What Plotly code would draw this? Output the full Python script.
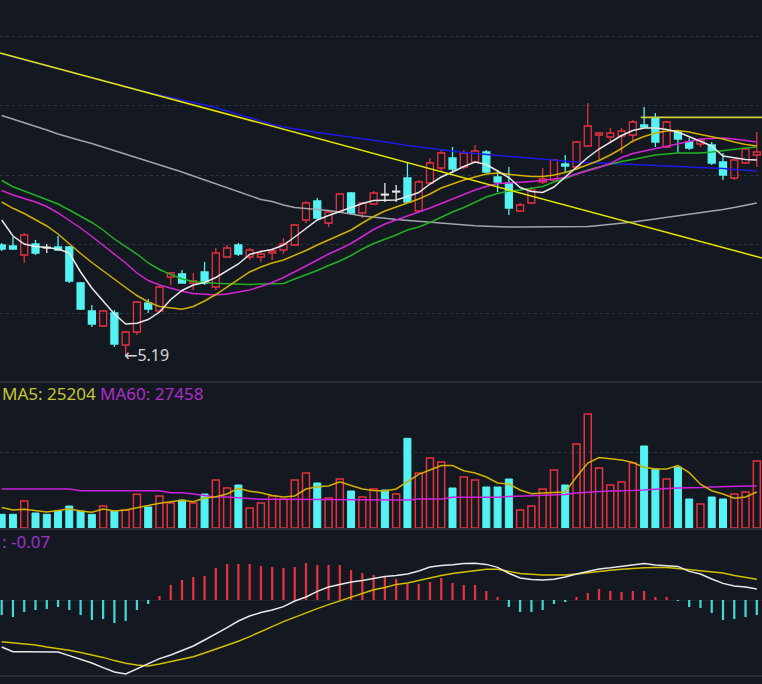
"""Daily K-line chart with volume and MACD panels, dark terminal style."""

import plotly.graph_objects as go

# --- price data (one entry per trading day) ---
opens = [6.29, 6.28, 6.19, 6.30, 6.26, 6.27, 6.27, 5.91, 5.63, 5.48,
         5.61, 5.29, 5.42, 5.71, 5.63, 5.97, 6.00, 5.91, 6.02, 5.87,
         6.17, 6.29, 6.17, 6.17, 6.21, 6.24, 6.29, 6.54, 6.73, 6.51,
         6.62, 6.81, 6.61, 6.70, 6.79, 6.82, 6.96, 6.63, 6.91, 7.06,
         7.16, 7.07, 7.12, 7.22, 6.97, 6.91, 6.63, 6.71, 6.92, 6.94,
         7.10, 7.07, 7.28, 7.39, 7.37, 7.38, 7.39, 7.49, 7.56, 7.27,
         7.42, 7.32, 7.30, 7.29, 7.12, 6.96, 7.11, 7.19]
highs = [6.31, 6.37, 6.41, 6.34, 6.30, 6.38, 6.28, 5.92, 5.69, 5.64,
         5.64, 5.43, 5.73, 5.75, 5.88, 6.02, 6.04, 6.01, 6.12, 6.26,
         6.29, 6.31, 6.26, 6.24, 6.26, 6.36, 6.50, 6.73, 6.76, 6.63,
         6.81, 6.82, 6.72, 6.83, 6.91, 6.89, 7.11, 6.94, 7.16, 7.24,
         7.27, 7.24, 7.29, 7.24, 7.04, 7.07, 6.71, 6.87, 7.06, 7.15,
         7.19, 7.33, 7.71, 7.42, 7.46, 7.46, 7.54, 7.67, 7.61, 7.53,
         7.44, 7.36, 7.36, 7.32, 7.21, 7.15, 7.26, 7.42]
lows = [6.23, 6.24, 6.11, 6.19, 6.21, 6.23, 5.91, 5.64, 5.47, 5.47,
        5.27, 5.19, 5.39, 5.61, 5.62, 5.89, 5.91, 5.84, 5.89, 5.84,
        6.16, 6.18, 6.14, 6.12, 6.14, 6.20, 6.28, 6.51, 6.54, 6.47,
        6.61, 6.59, 6.56, 6.69, 6.72, 6.72, 6.71, 6.61, 6.90, 7.02,
        7.01, 7.05, 7.11, 7.01, 6.82, 6.59, 6.62, 6.70, 6.90, 6.93,
        7.01, 7.06, 7.27, 7.14, 7.31, 7.21, 7.31, 7.46, 7.27, 7.26,
        7.21, 7.24, 7.27, 7.09, 6.94, 6.94, 7.10, 7.07]
closes = [6.25, 6.25, 6.39, 6.21, 6.26, 6.24, 5.93, 5.65, 5.50, 5.63,
          5.30, 5.42, 5.72, 5.65, 5.87, 6.01, 5.91, 5.93, 5.91, 6.21,
          6.26, 6.20, 6.24, 6.20, 6.23, 6.30, 6.49, 6.71, 6.56, 6.62,
          6.80, 6.61, 6.71, 6.81, 6.79, 6.82, 6.72, 6.92, 7.11, 7.21,
          7.05, 7.21, 7.23, 7.02, 6.92, 6.66, 6.69, 6.84, 6.95, 7.14,
          7.08, 7.32, 7.48, 7.41, 7.41, 7.43, 7.52, 7.47, 7.32, 7.52,
          7.35, 7.26, 7.34, 7.11, 6.99, 7.14, 7.25, 7.22]

ma5 = [6.54, 6.38, 6.30, 6.275, 6.265, 6.25, 6.21, 6.02, 5.86, 5.73,
       5.60, 5.50, 5.507, 5.545, 5.62, 5.745, 5.835, 5.89, 5.915, 5.965,
       6.035, 6.10, 6.195, 6.225, 6.245, 6.29, 6.37, 6.453, 6.54, 6.585,
       6.623, 6.66, 6.705, 6.734, 6.737, 6.74, 6.775, 6.815, 6.90, 6.97,
       7.02, 7.075, 7.12, 7.095, 7.03, 6.965, 6.865, 6.825, 6.815, 6.87,
       6.97, 7.065, 7.165, 7.25, 7.32, 7.385, 7.435, 7.46, 7.46, 7.445,
       7.42, 7.375, 7.33, 7.28, 7.18, 7.16, 7.145, 7.14]
ma10 = [6.72, 6.657, 6.605, 6.545, 6.48, 6.40, 6.30, 6.205, 6.115, 6.03,
        5.95, 5.865, 5.785, 5.72, 5.675, 5.66, 5.647, 5.675, 5.73, 5.795,
        5.87, 5.94, 6.02, 6.07, 6.11, 6.14, 6.185, 6.235, 6.29, 6.34,
        6.385, 6.44, 6.51, 6.575, 6.63, 6.67, 6.71, 6.75, 6.80, 6.86,
        6.90, 6.94, 6.97, 7.00, 7.01, 6.995, 6.985, 6.975, 6.975, 6.99,
        7.015, 7.05, 7.09, 7.135, 7.19, 7.255, 7.33, 7.375, 7.41, 7.43,
        7.435, 7.42, 7.395, 7.375, 7.35, 7.32, 7.295, 7.28]
ma20 = [6.835, 6.79, 6.755, 6.72, 6.675, 6.61, 6.535, 6.46, 6.375, 6.285,
        6.20, 6.11, 6.01, 5.935, 5.89, 5.857, 5.827, 5.805, 5.795, 5.79,
        5.80, 5.817, 5.84, 5.875, 5.915, 5.965, 6.02, 6.08, 6.14, 6.20,
        6.25, 6.305, 6.375, 6.445, 6.50, 6.54, 6.58, 6.615, 6.66, 6.705,
        6.75, 6.80, 6.84, 6.875, 6.905, 6.91, 6.915, 6.925, 6.935, 6.95,
        6.965, 7.00, 7.03, 7.065, 7.105, 7.165, 7.205, 7.23, 7.25, 7.275,
        7.305, 7.325, 7.35, 7.355, 7.36, 7.35, 7.335, 7.32]
ma30 = [6.935, 6.873, 6.83, 6.785, 6.745, 6.70, 6.64, 6.58, 6.515, 6.44,
        6.35, 6.273, 6.20, 6.11, 6.045, 5.995, 5.95, 5.925, 5.913, 5.907,
        5.902, 5.897, 5.895, 5.90, 5.90, 5.905, 5.95, 5.99, 6.035, 6.085,
        6.13, 6.185, 6.25, 6.305, 6.345, 6.39, 6.44, 6.47, 6.515, 6.57,
        6.62, 6.665, 6.72, 6.77, 6.805, 6.83, 6.84, 6.855, 6.875, 6.92,
        6.955, 7.00, 7.04, 7.07, 7.10, 7.125, 7.145, 7.17, 7.19, 7.20,
        7.21, 7.21, 7.21, 7.22, 7.235, 7.25, 7.26, 7.27]
ma60 = [7.585, 7.55, 7.515, 7.48, 7.44, 7.40, 7.365, 7.335, 7.305, 7.27,
        7.235, 7.20, 7.165, 7.13, 7.095, 7.06, 7.02, 6.98, 6.94, 6.90,
        6.86, 6.825, 6.78, 6.745, 6.725, 6.69, 6.665, 6.652, 6.645, 6.635,
        6.62, 6.60, 6.58, 6.565, 6.557, 6.545, 6.535, 6.53, 6.52, 6.51,
        6.50, 6.49, 6.482, 6.477, 6.472, 6.47, 6.47, 6.47, 6.47, 6.47,
        6.47, 6.47, 6.475, 6.485, 6.495, 6.505, 6.52, 6.535, 6.55, 6.565,
        6.58, 6.595, 6.61, 6.63, 6.645, 6.665, 6.685, 6.71]
ma120 = [8.20, 8.17, 8.14, 8.11, 8.08, 8.05, 8.02, 7.99, 7.96, 7.93,
         7.90, 7.87, 7.84, 7.815, 7.79, 7.765, 7.745, 7.72, 7.695, 7.665,
         7.63, 7.595, 7.56, 7.525, 7.495, 7.47, 7.45, 7.43, 7.415, 7.40,
         7.385, 7.37, 7.355, 7.34, 7.32, 7.305, 7.285, 7.27, 7.255, 7.24,
         7.225, 7.215, 7.205, 7.195, 7.185, 7.175, 7.165, 7.155, 7.145, 7.135,
         7.125, 7.12, 7.115, 7.11, 7.11, 7.105, 7.10, 7.09, 7.085, 7.08,
         7.075, 7.07, 7.065, 7.06, 7.055, 7.045, 7.04, 7.03]

# drawn lines: descending trendline and the flat line at the recent high
trend_x = [-0.15, 67.46]
trend_y = [8.21, 6.16]
flat_x = [56.7, 67.46]
flat_y = [7.567, 7.567]
low_label_x = 10.7
low_label_y = 5.19

# --- volume ---
volumes = [8900, 8900, 17550, 9750, 8900, 11050, 14300, 11050, 8900, 14300,
           11050, 11700, 21900, 13650, 20800, 16250, 18200, 16250, 22100, 31200,
           26000, 27950, 13000, 16250, 20800, 18850, 31200, 35750, 29250, 19500,
           31850, 24050, 20150, 25350, 24700, 22100, 58300, 35750, 45500, 42900,
           26000, 33150, 31200, 26650, 26650, 31850, 11700, 14300, 25350, 37700,
           27950, 54600, 74100, 39000, 27950, 29900, 42250, 53300, 38350, 31850,
           39650, 18850, 15600, 20150, 18850, 22100, 23400, 43550]
vol_up = [0, 0, 1, 0, 0, 0, 0, 0, 0, 1,
          0, 1, 1, 0, 1, 1, 0, 1, 0, 1,
          1, 0, 1, 1, 1, 1, 1, 1, 0, 1,
          1, 0, 1, 1, 0, 1, 0, 1, 1, 1,
          0, 1, 1, 0, 0, 0, 1, 1, 1, 1,
          0, 1, 1, 1, 1, 1, 1, 0, 0, 1,
          0, 0, 1, 0, 0, 1, 1, 1]
vol_ma5 = [13325, 11700, 12155, 11375, 10400, 11375, 12480, 11050, 10205, 12350,
           11050, 11700, 13130, 14820, 16055, 17030, 18070, 17095, 19500, 20345,
           22100, 25805, 23920, 22945, 21125, 20150, 20800, 25350, 26845, 27300,
           30030, 27625, 25350, 24375, 24050, 25350, 30355, 34905, 37700, 40625,
           40625, 37180, 35750, 33150, 29250, 28600, 24700, 22295, 22750, 23270,
           23400, 33150, 42250, 45825, 44980, 44200, 42575, 39520, 38350, 38350,
           40625, 35945, 28470, 24245, 22100, 19305, 20150, 23400]
vol_ma60 = [25350, 25350, 25350, 25350, 25350, 25350, 25350, 24245, 24245, 24245,
            24245, 24245, 24245, 24245, 24245, 22945, 22945, 22100, 21125, 20150,
            20150, 19500, 18850, 18655, 18655, 18655, 18655, 18200, 18200, 18200,
            18200, 18200, 18200, 18200, 18200, 18200, 18200, 18850, 18850, 18850,
            19955, 19955, 19955, 19955, 19955, 20475, 20800, 20800, 21125, 21450,
            21775, 22750, 23400, 23725, 24050, 24050, 24375, 24700, 25350, 25675,
            26000, 26000, 26325, 26650, 26845, 26845, 26975, 27458]

# --- MACD ---
dif = [-0.235, -0.259, -0.259, -0.259, -0.259, -0.26, -0.278, -0.295, -0.315, -0.338,
       -0.36, -0.37, -0.345, -0.32, -0.293, -0.275, -0.253, -0.23, -0.2, -0.17,
       -0.138, -0.105, -0.08, -0.063, -0.05, -0.033, -0.005, 0.015, 0.043, 0.065,
       0.078, 0.09, 0.098, 0.108, 0.118, 0.123, 0.13, 0.145, 0.165, 0.173,
       0.176, 0.183, 0.184, 0.178, 0.163, 0.134, 0.11, 0.103, 0.1, 0.104,
       0.115, 0.13, 0.143, 0.155, 0.161, 0.168, 0.175, 0.183, 0.175, 0.17,
       0.168, 0.143, 0.13, 0.105, 0.083, 0.07, 0.065, 0.055]
dea = [-0.209, -0.215, -0.22, -0.225, -0.235, -0.243, -0.251, -0.263, -0.275, -0.287,
       -0.303, -0.316, -0.325, -0.33, -0.32, -0.308, -0.297, -0.284, -0.265, -0.246,
       -0.225, -0.206, -0.183, -0.16, -0.133, -0.108, -0.085, -0.065, -0.043, -0.023,
       -0.005, 0.013, 0.033, 0.051, 0.063, 0.078, 0.085, 0.098, 0.113, 0.123,
       0.133, 0.141, 0.149, 0.154, 0.154, 0.143, 0.133, 0.129, 0.125, 0.125,
       0.125, 0.13, 0.137, 0.144, 0.149, 0.154, 0.158, 0.161, 0.162, 0.162,
       0.158, 0.153, 0.148, 0.142, 0.135, 0.123, 0.112, 0.104]
macd = [-0.075, -0.085, -0.06, -0.05, -0.045, -0.035, -0.05, -0.075, -0.1, -0.095,
        -0.115, -0.105, -0.05, -0.02, 0.02, 0.075, 0.1, 0.115, 0.12, 0.16,
        0.18, 0.18, 0.18, 0.17, 0.165, 0.16, 0.165, 0.185, 0.175, 0.175,
        0.175, 0.15, 0.135, 0.125, 0.115, 0.105, 0.08, 0.08, 0.09, 0.11,
        0.085, 0.075, 0.075, 0.045, 0.015, -0.035, -0.06, -0.06, -0.05, -0.02,
        -0.01, 0.015, 0.035, 0.055, 0.045, 0.04, 0.045, 0.045, 0.015, 0.015,
        -0.005, -0.035, -0.04, -0.065, -0.1, -0.095, -0.085, -0.075]

price_grid = [5.61, 6.30, 6.99, 7.69, 8.38]
vol_grid = [49400]

BG = "#141821"
GRID = "#30343e"
SEP = "#2a2e38"
RED = "#e6323f"
CYAN = "#54f2f2"
CYAN_DIM = "#44d6d6"
WHITE = "#e8e8e8"
FONT = "Noto Sans"
LW = 1.5

days = list(range(len(closes)))
fig = go.Figure()


def add_wicks(sel, color):
    """Upper and lower shadows for the chosen candles, as one broken line."""
    xs, ys = [], []
    for i in sel:
        top = max(opens[i], closes[i])
        bot = min(opens[i], closes[i])
        xs += [i, i, None, i, i, None]
        ys += [highs[i], top, None, bot, lows[i], None]
    fig.add_scatter(x=xs, y=ys, mode="lines", line=dict(color=color, width=1.3),
                    hoverinfo="skip")


def add_bodies(sel, fill, edge):
    base = [min(opens[i], closes[i]) for i in sel]
    size = [max(abs(closes[i] - opens[i]), 0.008) for i in sel]
    fig.add_bar(x=sel, y=size, base=base, width=0.62,
                marker=dict(color=fill, line=dict(color=edge, width=1.3)))


up = [i for i in days if closes[i] > opens[i]]
down = [i for i in days if closes[i] < opens[i]]
doji = [i for i in days if closes[i] == opens[i]]

for sel, col in ((up, RED), (down, CYAN), (doji, WHITE)):
    add_wicks(sel, col)
add_bodies(up, "rgba(0,0,0,0)", RED)
add_bodies(down, CYAN, CYAN)
add_bodies(doji, WHITE, WHITE)

for series, col in ((ma60, "#a4a4ac"), (ma120, "#1c1ce0"), (ma30, "#22b022"),
                    (ma20, "#d424d4"), (ma10, "#d2b000"), (ma5, WHITE)):
    fig.add_scatter(x=days, y=series, mode="lines", line=dict(color=col, width=LW))

fig.add_scatter(x=trend_x, y=trend_y, mode="lines", line=dict(color="#e6e600", width=LW))
fig.add_scatter(x=flat_x, y=flat_y, mode="lines", line=dict(color="#cfcf3a", width=1.8))

# volume panel
vol_red = [i for i in days if vol_up[i]]
vol_cyan = [i for i in days if not vol_up[i]]
fig.add_bar(x=vol_red, y=[volumes[i] for i in vol_red], width=0.62, yaxis="y2",
            marker=dict(color="rgba(0,0,0,0)", line=dict(color=RED, width=1.5)))
fig.add_bar(x=vol_cyan, y=[volumes[i] for i in vol_cyan], width=0.62, yaxis="y2",
            marker=dict(color=CYAN, line=dict(color=CYAN, width=1)))
fig.add_scatter(x=days, y=vol_ma60, yaxis="y2", mode="lines",
                line=dict(color="#cc22dd", width=LW))
fig.add_scatter(x=days, y=vol_ma5, yaxis="y2", mode="lines",
                line=dict(color="#d2b000", width=LW))

# MACD panel
fig.add_bar(x=days, y=macd, width=0.2, yaxis="y3",
            marker=dict(color=[RED if v > 0 else CYAN_DIM for v in macd], line=dict(width=0)))
fig.add_scatter(x=days, y=dea, yaxis="y3", mode="lines", line=dict(color="#d2c000", width=LW))
fig.add_scatter(x=days, y=dif, yaxis="y3", mode="lines", line=dict(color=WHITE, width=LW))

H = 684.0


def band(top_px, bottom_px):
    return [1 - bottom_px / H, 1 - top_px / H]


hidden_y = dict(showticklabels=False, ticks="", showline=False, zeroline=False,
                gridcolor=GRID, griddash="dot", gridwidth=1)

fig.update_layout(
    width=762,
    height=684,
    margin=dict(l=0, r=0, t=0, b=0),
    paper_bgcolor=BG,
    plot_bgcolor=BG,
    showlegend=False,
    barmode="overlay",
    font=dict(family=FONT),
    xaxis=dict(range=[-0.15, 67.46], visible=False, anchor="y3"),
    yaxis=dict(domain=band(0, 381), range=[4.93, 8.74], tickvals=price_grid, **hidden_y),
    yaxis2=dict(domain=band(383, 528), range=[0, 94250], tickvals=vol_grid, **hidden_y),
    yaxis3=dict(domain=band(530, 675), range=[-0.375, 0.35], tickvals=[0],
                showticklabels=False, ticks="", zeroline=False, gridcolor="#22262e",
                gridwidth=1),
)

for px in (382, 529, 676):
    fig.add_shape(type="line", xref="paper", yref="paper", x0=0, x1=1,
                  y0=1 - px / H, y1=1 - px / H, line=dict(color=SEP, width=2))

fig.add_annotation(
    x=0, y=1 - 393 / H, xref="paper", yref="paper", xanchor="left", yanchor="middle",
    showarrow=False, font=dict(size=17, family=FONT),
    text="<span style='color:#c9c632'>MA5: 25204</span> "
         "<span style='color:#b02ccc'>MA60: 27458</span>",
)
fig.add_annotation(
    x=0, y=1 - 541 / H, xref="paper", yref="paper", xanchor="left", yanchor="middle",
    showarrow=False, font=dict(size=17, family=FONT, color="#9c32c8"), text=": -0.07",
)
fig.add_annotation(
    x=low_label_x, y=low_label_y, xanchor="left", yanchor="middle", showarrow=False,
    font=dict(size=16, family=FONT, color="#d6d6d6"),
    text="<span style='font-family:DejaVu Sans'>←</span>5.19",
)

# the page body has a default margin; drop it so the chart fills the window
fig.write_html("out.html", config={"displayModeBar": False},
               post_script="document.body.style.margin='0';")
